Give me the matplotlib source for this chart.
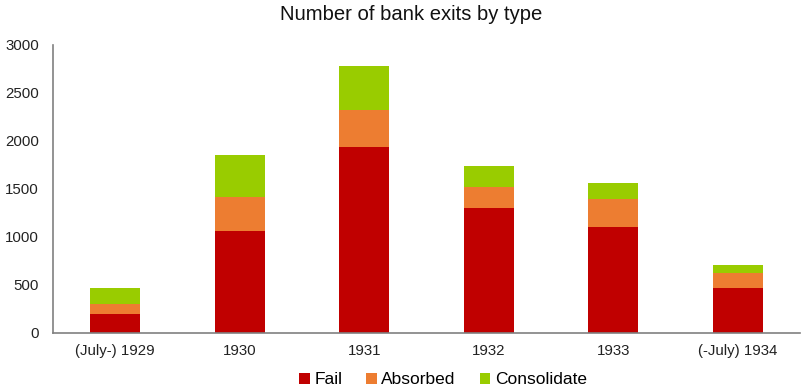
import matplotlib
matplotlib.use('Agg')
import matplotlib.pyplot as plt
import numpy as np

plt.rcParams['font.family'] = ['Liberation Sans', 'DejaVu Sans']

# bank exits per period
periods = ['(July-) 1929', '1930', '1931', '1932', '1933', '(-July) 1934']
fail = [200, 1065, 1940, 1300, 1100, 465]
absorbed = [105, 355, 385, 225, 295, 160]
consolidate = [165, 435, 455, 215, 165, 85]

fig = plt.figure(figsize=(8.07, 3.92), dpi=100)
ax = fig.add_axes([53/807, 1-333/392, 747/807, 288/392])

x = np.arange(len(periods))
fail = np.array(fail)
absorbed = np.array(absorbed)
consolidate = np.array(consolidate)
w = 0.4
ax.bar(x, fail, w, color='#C00000', label='Fail')
ax.bar(x, absorbed, w, bottom=fail, color='#ED7D31', label='Absorbed')
ax.bar(x, consolidate, w, bottom=fail+absorbed, color='#99CC00', label='Consolidate')

ax.set_xlim(-0.5, len(periods)-0.5)
ax.set_ylim(0, 3000)
ax.set_yticks(range(0, 3001, 500))
ax.set_xticks(x)
ax.set_xticklabels(periods)
ax.tick_params(axis='both', length=0, labelsize=10.8, colors='#222222')
ax.tick_params(axis='y', pad=10)
ax.tick_params(axis='x', pad=8)
for s in ['top', 'right']:
    ax.spines[s].set_visible(False)
for s in ['left', 'bottom']:
    ax.spines[s].set_color('#808080')
    ax.spines[s].set_linewidth(1.2)

fig.text(411/807, 1-15/392, 'Number of bank exits by type', ha='center', va='center',
         fontsize=14.6, color='#111111')
fig.legend(loc='center', bbox_to_anchor=(443/807, 1-380/392), ncol=3, frameon=False,
           fontsize=12.5, handlelength=0.6, handleheight=0.6, handletextpad=0.25,
           columnspacing=1.4)

plt.savefig('out.png', dpi=100)
